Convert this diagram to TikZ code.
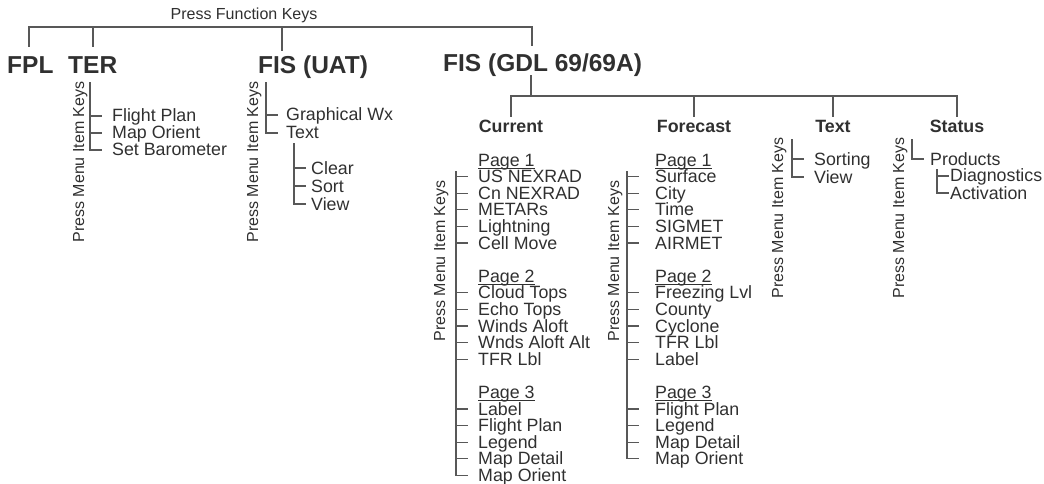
\documentclass[tikz,border=0pt]{standalone}
\usepackage{fontspec}
\setmainfont{Liberation Sans}
\definecolor{txtc}{HTML}{303030}
\definecolor{lnc}{HTML}{585858}
\begin{document}
\begin{tikzpicture}[x=1pt,y=-1pt,
  ln/.style={draw=lnc,line width=1.3pt,line cap=rect},
  ul/.style={draw=txtc,line width=0.9pt},
  title/.style={inner sep=0,anchor=base west,text=txtc,font=\fontsize{24.5}{24.5}\selectfont\bfseries},
  sub/.style={inner sep=0,anchor=base,text=txtc,font=\fontsize{17.8}{17.8}\selectfont\bfseries,text height=13pt,text depth=0pt},
  item/.style={inner sep=0,anchor=west,text=txtc,font=\fontsize{17.8}{17.8}\selectfont,text height=13pt,text depth=1pt},
  rot/.style={inner sep=0,anchor=base,rotate=90,text=txtc,font=\fontsize{16}{16}\selectfont},
  top/.style={inner sep=0,anchor=base,text=txtc,font=\fontsize{16}{16}\selectfont},
]
\useasboundingbox (0,0) rectangle (1044,484);

% top level
\node[top] (pfk) at (244,20) {Press Function Keys};
\node[title] (fpl) at (7,74) {FPL};
\node[title] (ter) at (68,74) {TER};
\node[title] (uat) at (258,74) {FIS (UAT)};
\node[title] (gdl) at (443,72) {FIS (GDL 69/69A)};
\coordinate (tl) at (29,27);
\coordinate (tr) at (532,27);
\coordinate (d1) at (29,46);
\coordinate (d2) at (93,46);
\coordinate (d3) at (282,50);
\coordinate (d4) at (532,45);
\draw[ln] (tl) -- (tr);
\foreach \d in {d1,d2,d3,d4} \draw[ln] (\d |- tl) -- (\d);

% TER column
\node[rot] (terk) at (84,162) {Press Menu Item Keys};
\coordinate (terbar) at (90,83);
\node[item] (t1) at (112,116) {Flight Plan};
\node[item] (t2) at (112,133) {Map Orient};
\node[item] (t3) at (112,150) {Set Barometer};
\draw[ln] (terbar) -- (terbar |- t3.west);
\foreach \n in {t1,t2,t3} \draw[ln] (terbar |- \n.west) -- ++(11,0);

% FIS (UAT) column
\node[rot] (uatk) at (258,162) {Press Menu Item Keys};
\coordinate (uatbar) at (266,83);
\node[item] (u1) at (286,115) {Graphical Wx};
\node[item] (u2) at (286,133) {Text};
\draw[ln] (uatbar) -- (uatbar |- u2.west);
\foreach \n in {u1,u2} \draw[ln] (uatbar |- \n.west) -- ++(11,0);
\coordinate (uatsub) at (294,144);
\node[item] (u3) at (311,168) {Clear};
\node[item] (u4) at (311,186) {Sort};
\node[item] (u5) at (311,204) {View};
\draw[ln] (uatsub) -- (uatsub |- u5.west);
\foreach \n in {u3,u4,u5} \draw[ln] (uatsub |- \n.west) -- ++(11,0);

% GDL tree
\coordinate (gdrop) at (531,76);
\coordinate (gbar) at (0,96);
\node[sub] (cur) at (511,133) {Current};
\node[sub] (fc) at (694,133) {Forecast};
\node[sub] (txt) at (833,133) {Text};
\node[sub] (st) at (957,133) {Status};
\draw[ln] (gdrop) -- (gdrop |- gbar);
\draw[ln] (cur.north |- gbar) -- (st.north |- gbar);
\foreach \n in {cur,fc,txt,st} \draw[ln] (\n.north |- gbar) -- ([yshift=3pt]\n.north);

% Current column
\node[rot] (curk) at (445,261) {Press Menu Item Keys};
\coordinate (cbar) at (456,172);
\foreach \r/\t in {0/Page 1,7/Page 2,14/Page 3} {
  \node[item] (ch\r) at (478,{160+\r*16.6}) {\t};
  \draw[ul] ([yshift=-1pt]ch\r.south west) -- ([yshift=-1pt]ch\r.south east);
}
\foreach \r/\t in {1/US NEXRAD,2/Cn NEXRAD,3/METARs,4/Lightning,5/Cell Move,
  8/Cloud Tops,9/Echo Tops,10/Winds Aloft,11/Wnds Aloft Alt,12/TFR Lbl,
  15/Label,16/Flight Plan,17/Legend,18/Map Detail,19/Map Orient} {
  \node[item] (c\r) at (478,{160+\r*16.6}) {\t};
  \draw[ln] (cbar |- c\r.west) -- ++(11,0);
}
\draw[ln] (cbar) -- (cbar |- c19.west);

% Forecast column
\node[rot] (fck) at (619,261) {Press Menu Item Keys};
\coordinate (fbar) at (627,172);
\foreach \r/\t in {0/Page 1,7/Page 2,14/Page 3} {
  \node[item] (fh\r) at (655,{160+\r*16.6}) {\t};
  \draw[ul] ([yshift=-1pt]fh\r.south west) -- ([yshift=-1pt]fh\r.south east);
}
\foreach \r/\t in {1/Surface,2/City,3/Time,4/SIGMET,5/AIRMET,
  8/Freezing Lvl,9/County,10/Cyclone,11/TFR Lbl,12/Label,
  15/Flight Plan,16/Legend,17/Map Detail,18/Map Orient} {
  \node[item] (f\r) at (655,{160+\r*16.6}) {\t};
  \draw[ln] (fbar |- f\r.west) -- ++(11,0);
}
\draw[ln] (fbar) -- (fbar |- f18.west);

% Text column
\node[rot] (txk) at (783,218) {Press Menu Item Keys};
\coordinate (xbar) at (792,140);
\node[item] (x1) at (814,159) {Sorting};
\node[item] (x2) at (814,177) {View};
\draw[ln] (xbar) -- (xbar |- x2.west);
\foreach \n in {x1,x2} \draw[ln] (xbar |- \n.west) -- ++(11,0);

% Status column
\node[rot] (stk) at (904,218) {Press Menu Item Keys};
\coordinate (sbar) at (912,140);
\node[item] (s1) at (930,159) {Products};
\draw[ln] (sbar) -- (sbar |- s1.west) -- ++(11,0);
\coordinate (ssub) at (937,170);
\node[item] (s2) at (950,176) {Diagnostics};
\node[item] (s3) at (950,193) {Activation};
\draw[ln] (ssub) -- (ssub |- s3.west);
\foreach \n in {s2,s3} \draw[ln] (ssub |- \n.west) -- ++(11,0);
\end{tikzpicture}
\end{document}
